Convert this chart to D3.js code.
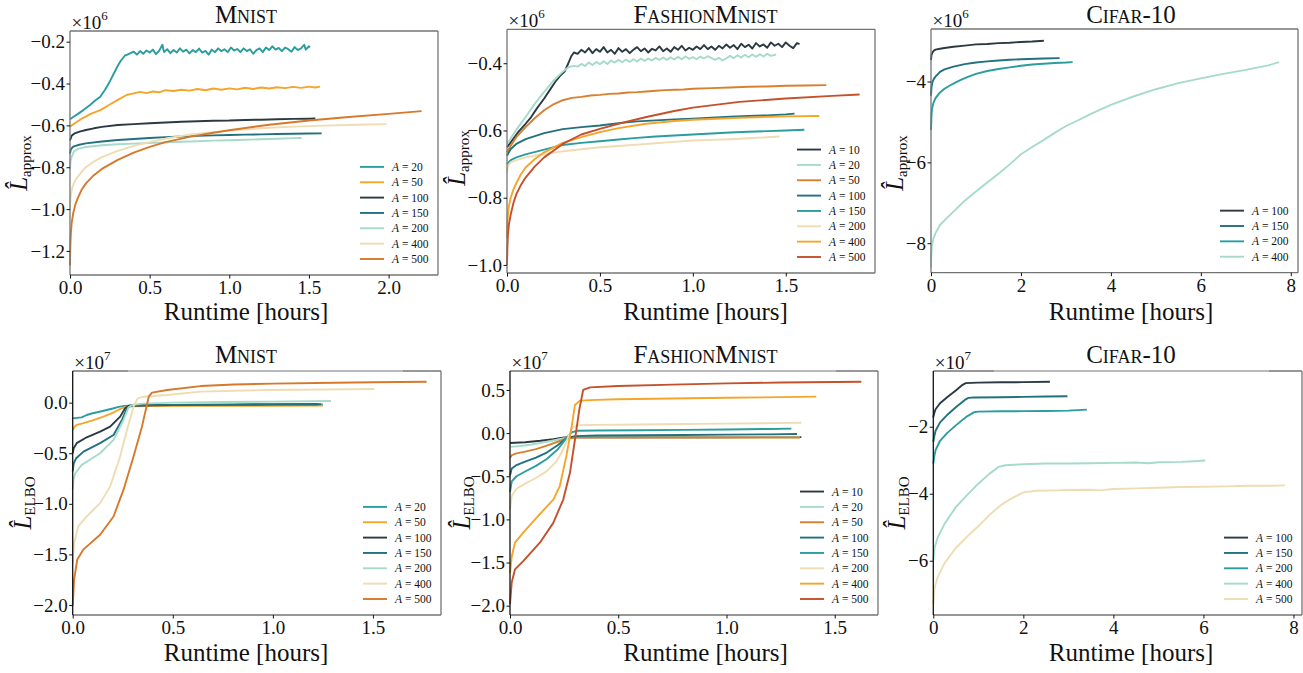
<!DOCTYPE html>
<html><head><meta charset="utf-8">
<script src="https://cdn.jsdelivr.net/npm/d3@7"></script>
<style>
body{margin:0;background:#fff}
svg{display:block}
text{font-family:"Liberation Serif","DejaVu Serif",serif;fill:#111}
</style>
</head><body>
<svg id="chart" width="1303" height="673"></svg>
<script>
// ---------------- DATA ----------------
// Panel titles and tick labels
const panelTitles = ["Mnist","FashionMnist","Cifar-10","Mnist","FashionMnist","Cifar-10"];
const panelExponents = ["6","6","6","7","7","7"];
const xTicksMnistApprox = [0,0.5,1.0,1.5,2.0];
const yTicksMnistApprox = [-1.2,-1.0,-0.8,-0.6,-0.4,-0.2];
const xTicksFashionApprox = [0,0.5,1.0,1.5];
const yTicksFashionApprox = [-1.0,-0.8,-0.6,-0.4];
const xTicksCifarApprox = [0,2,4,6,8];
const yTicksCifarApprox = [-8,-6,-4];
const xTicksMnistElbo = [0,0.5,1.0,1.5];
const yTicksMnistElbo = [-2.0,-1.5,-1.0,-0.5,0.0];
const xTicksFashionElbo = [0,0.5,1.0,1.5];
const yTicksFashionElbo = [-2.0,-1.5,-1.0,-0.5,0.0,0.5];
const xTicksCifarElbo = [0,2,4,6,8];
const yTicksCifarElbo = [-6,-4,-2];

// Series labels (A values)
const mnistApproxA = [20,50,100,150,200,400,500];
const fashionApproxA = [10,20,50,100,150,200,400,500];
const cifarApproxA = [100,150,200,400];
const mnistElboA = [20,50,100,150,200,400,500];
const fashionElboA = [10,20,50,100,150,200,400,500];
const cifarElboA = [100,150,200,400,500];

// Series values: [runtime hours, value (x10^exp)]
const mnistApproxValues = [
 [[0,-0.571],[0.02,-0.56],[0.05,-0.545],[0.084,-0.527],[0.126,-0.503],[0.16,-0.48],[0.19,-0.463],[0.22,-0.43],[0.25,-0.39],[0.28,-0.345],[0.30,-0.315],[0.32,-0.29],[0.345,-0.266],[0.36,-0.262],
  [0.38,-0.255],[0.40,-0.248],[0.42,-0.262],[0.44,-0.245],[0.46,-0.258],[0.48,-0.242],[0.50,-0.252],[0.52,-0.238],[0.54,-0.26],[0.56,-0.243],[0.58,-0.215],[0.59,-0.25],[0.61,-0.236],[0.63,-0.255],[0.65,-0.24],[0.67,-0.252],[0.69,-0.232],[0.71,-0.248],[0.73,-0.238],[0.75,-0.256],[0.77,-0.24],[0.79,-0.25],[0.81,-0.233],[0.83,-0.252],[0.85,-0.244],[0.87,-0.262],[0.89,-0.238],[0.91,-0.25],[0.93,-0.232],[0.95,-0.245],[0.97,-0.236],[0.99,-0.25],[1.01,-0.228],[1.03,-0.242],[1.05,-0.235],[1.07,-0.25],[1.09,-0.232],[1.11,-0.245],[1.13,-0.236],[1.15,-0.258],[1.17,-0.24],[1.19,-0.232],[1.21,-0.25],[1.23,-0.228],[1.25,-0.24],[1.27,-0.222],[1.29,-0.238],[1.31,-0.23],[1.33,-0.245],[1.35,-0.228],[1.37,-0.236],[1.39,-0.248],[1.41,-0.226],[1.43,-0.24],[1.45,-0.232],[1.47,-0.215],[1.48,-0.238],[1.50,-0.222],[1.506,-0.228]],
 [[0,-0.606],[0.03,-0.59],[0.08,-0.565],[0.13,-0.545],[0.19,-0.527],[0.25,-0.5],[0.3,-0.478],[0.356,-0.455],[0.40,-0.447],[0.44,-0.44],[0.48,-0.446],[0.52,-0.438],[0.56,-0.442],[0.60,-0.432],[0.65,-0.436],[0.70,-0.43],[0.75,-0.434],[0.80,-0.426],[0.85,-0.432],[0.90,-0.424],[0.95,-0.43],[1.0,-0.423],[1.05,-0.428],[1.1,-0.42],[1.15,-0.426],[1.2,-0.419],[1.25,-0.424],[1.3,-0.418],[1.35,-0.422],[1.4,-0.416],[1.45,-0.421],[1.5,-0.415],[1.54,-0.419],[1.57,-0.415]],
 [[0,-0.672],[0.01,-0.65],[0.03,-0.638],[0.06,-0.63],[0.1,-0.622],[0.15,-0.614],[0.2,-0.607],[0.3,-0.598],[0.4,-0.594],[0.5,-0.59],[0.6,-0.586],[0.7,-0.583],[0.8,-0.58],[0.9,-0.578],[1.0,-0.577],[1.1,-0.574],[1.2,-0.573],[1.3,-0.571],[1.4,-0.569],[1.5,-0.568],[1.54,-0.567]],
 [[0,-0.735],[0.005,-0.715],[0.02,-0.702],[0.05,-0.694],[0.1,-0.686],[0.2,-0.677],[0.3,-0.67],[0.4,-0.665],[0.5,-0.66],[0.6,-0.656],[0.7,-0.653],[0.8,-0.65],[0.9,-0.648],[1.0,-0.646],[1.1,-0.644],[1.2,-0.643],[1.3,-0.641],[1.4,-0.64],[1.5,-0.639],[1.58,-0.638]],
 [[0,-0.81],[0.003,-0.77],[0.01,-0.75],[0.025,-0.725],[0.05,-0.712],[0.1,-0.703],[0.2,-0.695],[0.3,-0.69],[0.4,-0.687],[0.5,-0.684],[0.6,-0.681],[0.7,-0.678],[0.8,-0.676],[0.9,-0.673],[1.0,-0.671],[1.1,-0.669],[1.2,-0.666],[1.3,-0.664],[1.4,-0.661],[1.454,-0.66]],
 [[0,-1.0],[0.003,-0.95],[0.01,-0.91],[0.02,-0.885],[0.035,-0.86],[0.05,-0.845],[0.075,-0.82],[0.1,-0.8],[0.15,-0.773],[0.2,-0.752],[0.3,-0.722],[0.4,-0.698],[0.5,-0.68],[0.6,-0.663],[0.75,-0.645],[0.9,-0.632],[1.0,-0.625],[1.2,-0.614],[1.4,-0.606],[1.6,-0.601],[1.8,-0.597],[1.987,-0.594]],
 [[0,-1.27],[0.002,-1.18],[0.005,-1.12],[0.01,-1.07],[0.02,-1.02],[0.035,-0.975],[0.05,-0.945],[0.075,-0.905],[0.1,-0.877],[0.15,-0.838],[0.2,-0.808],[0.3,-0.765],[0.4,-0.73],[0.5,-0.703],[0.6,-0.68],[0.75,-0.655],[0.9,-0.635],[1.0,-0.623],[1.25,-0.597],[1.5,-0.577],[1.75,-0.56],[2.0,-0.545],[2.207,-0.532]]
];
const fashionApproxValues = [
 [[0,-0.65],[0.03,-0.628],[0.06,-0.605],[0.1,-0.58],[0.13,-0.56],[0.16,-0.535],[0.2,-0.505],[0.23,-0.48],[0.26,-0.455],[0.29,-0.435],[0.31,-0.425],[0.33,-0.4],[0.345,-0.38],[0.36,-0.368],
  [0.38,-0.372],[0.40,-0.36],[0.42,-0.368],[0.44,-0.355],[0.46,-0.37],[0.48,-0.358],[0.50,-0.366],[0.52,-0.352],[0.54,-0.368],[0.56,-0.36],[0.58,-0.372],[0.60,-0.355],[0.62,-0.366],[0.64,-0.358],[0.66,-0.37],[0.68,-0.36],[0.70,-0.352],[0.72,-0.364],[0.74,-0.356],[0.76,-0.368],[0.78,-0.357],[0.80,-0.362],[0.82,-0.35],[0.84,-0.364],[0.86,-0.356],[0.88,-0.366],[0.90,-0.352],[0.92,-0.36],[0.94,-0.348],[0.96,-0.362],[0.98,-0.354],[1.0,-0.36],[1.02,-0.35],[1.04,-0.358],[1.06,-0.346],[1.08,-0.358],[1.10,-0.35],[1.12,-0.36],[1.14,-0.348],[1.16,-0.356],[1.18,-0.344],[1.20,-0.354],[1.22,-0.346],[1.24,-0.358],[1.26,-0.342],[1.28,-0.352],[1.30,-0.345],[1.32,-0.356],[1.34,-0.34],[1.36,-0.35],[1.38,-0.344],[1.40,-0.354],[1.42,-0.338],[1.44,-0.348],[1.46,-0.342],[1.48,-0.352],[1.50,-0.338],[1.52,-0.348],[1.54,-0.355],[1.56,-0.34],[1.574,-0.343]],
 [[0,-0.64],[0.03,-0.615],[0.06,-0.59],[0.1,-0.56],[0.15,-0.52],[0.2,-0.485],[0.25,-0.452],[0.3,-0.425],[0.33,-0.412],[0.36,-0.408],[0.38,-0.41],[0.40,-0.402],[0.42,-0.408],[0.44,-0.398],[0.46,-0.405],[0.48,-0.396],[0.50,-0.403],[0.52,-0.394],[0.54,-0.402],[0.56,-0.392],[0.58,-0.398],[0.60,-0.39],[0.62,-0.397],[0.64,-0.389],[0.66,-0.396],[0.68,-0.388],[0.70,-0.395],[0.72,-0.386],[0.74,-0.393],[0.76,-0.386],[0.78,-0.392],[0.80,-0.384],[0.82,-0.39],[0.84,-0.383],[0.86,-0.39],[0.88,-0.382],[0.90,-0.389],[0.92,-0.381],[0.94,-0.388],[0.96,-0.38],[0.98,-0.387],[1.0,-0.382],[1.02,-0.388],[1.04,-0.38],[1.06,-0.386],[1.08,-0.379],[1.10,-0.385],[1.12,-0.39],[1.14,-0.384],[1.16,-0.392],[1.18,-0.385],[1.20,-0.378],[1.22,-0.385],[1.24,-0.376],[1.26,-0.383],[1.28,-0.375],[1.30,-0.382],[1.32,-0.374],[1.34,-0.381],[1.36,-0.373],[1.38,-0.38],[1.40,-0.372],[1.42,-0.378],[1.448,-0.374]],
 [[0,-0.665],[0.02,-0.645],[0.05,-0.62],[0.1,-0.59],[0.15,-0.563],[0.2,-0.54],[0.25,-0.522],[0.3,-0.51],[0.35,-0.503],[0.4,-0.5],[0.45,-0.496],[0.5,-0.494],[0.55,-0.491],[0.6,-0.49],[0.65,-0.487],[0.7,-0.486],[0.75,-0.484],[0.8,-0.482],[0.85,-0.48],[0.9,-0.479],[0.95,-0.478],[1.0,-0.476],[1.1,-0.474],[1.2,-0.472],[1.3,-0.47],[1.4,-0.469],[1.5,-0.467],[1.6,-0.466],[1.718,-0.465]],
 [[0,-0.675],[0.02,-0.655],[0.05,-0.64],[0.1,-0.626],[0.2,-0.608],[0.3,-0.596],[0.4,-0.59],[0.5,-0.585],[0.6,-0.578],[0.7,-0.573],[0.8,-0.57],[0.9,-0.567],[1.0,-0.565],[1.1,-0.562],[1.2,-0.559],[1.3,-0.557],[1.4,-0.555],[1.5,-0.552],[1.547,-0.55]],
 [[0,-0.7],[0.02,-0.688],[0.05,-0.68],[0.1,-0.671],[0.2,-0.657],[0.3,-0.643],[0.4,-0.637],[0.5,-0.632],[0.6,-0.627],[0.7,-0.622],[0.8,-0.618],[0.9,-0.615],[1.0,-0.612],[1.1,-0.609],[1.2,-0.606],[1.3,-0.604],[1.4,-0.602],[1.5,-0.6],[1.6,-0.598]],
 [[0,-0.725],[0.005,-0.705],[0.02,-0.695],[0.05,-0.688],[0.1,-0.68],[0.2,-0.67],[0.3,-0.662],[0.4,-0.656],[0.5,-0.65],[0.6,-0.646],[0.7,-0.642],[0.8,-0.638],[0.9,-0.634],[1.0,-0.63],[1.1,-0.628],[1.2,-0.626],[1.3,-0.623],[1.4,-0.62],[1.466,-0.618]],
 [[0,-0.92],[0.002,-0.87],[0.005,-0.85],[0.01,-0.825],[0.02,-0.8],[0.035,-0.775],[0.05,-0.757],[0.075,-0.73],[0.1,-0.71],[0.15,-0.685],[0.2,-0.665],[0.3,-0.637],[0.4,-0.62],[0.5,-0.605],[0.6,-0.593],[0.75,-0.58],[0.9,-0.572],[1.0,-0.568],[1.25,-0.562],[1.5,-0.558],[1.68,-0.557]],
 [[0,-1.0],[0.002,-0.95],[0.005,-0.91],[0.01,-0.88],[0.02,-0.85],[0.035,-0.815],[0.05,-0.79],[0.075,-0.762],[0.1,-0.74],[0.15,-0.707],[0.2,-0.68],[0.3,-0.64],[0.4,-0.612],[0.5,-0.595],[0.6,-0.58],[0.75,-0.56],[0.9,-0.542],[1.0,-0.532],[1.25,-0.515],[1.5,-0.505],[1.75,-0.497],[1.897,-0.493]]
];
const cifarApproxValues = [
 [[0,-3.47],[0.01,-3.35],[0.03,-3.29],[0.06,-3.24],[0.1,-3.21],[0.2,-3.19],[0.3,-3.17],[0.5,-3.14],[0.75,-3.11],[1.0,-3.08],[1.25,-3.07],[1.5,-3.05],[1.75,-3.04],[2.0,-3.02],[2.25,-3.01],[2.51,-2.99]],
 [[0,-4.35],[0.01,-4.15],[0.03,-4.02],[0.06,-3.94],[0.1,-3.88],[0.2,-3.76],[0.3,-3.7],[0.5,-3.63],[0.75,-3.57],[1.0,-3.53],[1.25,-3.5],[1.5,-3.48],[1.75,-3.46],[2.0,-3.45],[2.5,-3.43],[2.86,-3.42]],
 [[0,-5.2],[0.01,-4.85],[0.02,-4.7],[0.05,-4.54],[0.1,-4.41],[0.2,-4.27],[0.3,-4.18],[0.4,-4.11],[0.55,-4.02],[0.7,-3.94],[0.85,-3.87],[1.0,-3.81],[1.25,-3.74],[1.5,-3.69],[1.75,-3.65],[2.0,-3.61],[2.25,-3.58],[2.5,-3.56],[2.75,-3.54],[3.0,-3.53],[3.15,-3.52]],
 [[0,-8.6],[0.005,-8.3],[0.02,-8.05],[0.05,-7.9],[0.1,-7.75],[0.2,-7.55],[0.35,-7.38],[0.5,-7.22],[0.75,-6.95],[1.0,-6.72],[1.25,-6.5],[1.5,-6.28],[1.75,-6.05],[2.0,-5.8],[2.25,-5.62],[2.5,-5.45],[2.75,-5.27],[3.0,-5.1],[3.25,-4.97],[3.5,-4.83],[3.75,-4.7],[4.0,-4.58],[4.5,-4.37],[5.0,-4.19],[5.5,-4.04],[6.0,-3.92],[6.5,-3.81],[7.0,-3.71],[7.5,-3.6],[7.74,-3.52]]
];
const mnistElboValues = [
 [[0,-0.155],[0.02,-0.15],[0.045,-0.145],[0.07,-0.122],[0.1,-0.105],[0.15,-0.082],[0.2,-0.058],[0.23,-0.042],[0.26,-0.032],[0.3,-0.028],[0.4,-0.026],[0.5,-0.024],[0.75,-0.022],[1.0,-0.02],[1.25,-0.018]],
 [[0,-0.27],[0.008,-0.24],[0.02,-0.22],[0.05,-0.205],[0.1,-0.175],[0.15,-0.14],[0.2,-0.1],[0.23,-0.07],[0.26,-0.045],[0.3,-0.035],[0.4,-0.034],[0.6,-0.032],[0.8,-0.031],[1.0,-0.03],[1.25,-0.029]],
 [[0,-0.5],[0.005,-0.45],[0.02,-0.40],[0.07,-0.342],[0.137,-0.286],[0.187,-0.237],[0.237,-0.138],[0.262,-0.056],[0.28,-0.03],[0.4,-0.025],[0.6,-0.022],[0.8,-0.019],[1.0,-0.017],[1.224,-0.015]],
 [[0,-0.68],[0.005,-0.6],[0.017,-0.55],[0.054,-0.484],[0.137,-0.40],[0.204,-0.32],[0.246,-0.17],[0.271,-0.056],[0.29,-0.028],[0.4,-0.024],[0.6,-0.021],[0.8,-0.019],[1.0,-0.017],[1.24,-0.016]],
 [[0,-0.86],[0.004,-0.76],[0.012,-0.70],[0.045,-0.615],[0.137,-0.50],[0.204,-0.368],[0.254,-0.17],[0.279,-0.046],[0.3,-0.02],[0.35,-0.01],[0.5,0.0],[0.75,0.006],[1.0,0.01],[1.29,0.016]],
 [[0,-1.59],[0.007,-1.39],[0.028,-1.22],[0.07,-1.125],[0.137,-0.993],[0.187,-0.829],[0.237,-0.533],[0.271,-0.27],[0.304,-0.04],[0.324,0.043],[0.355,0.059],[0.472,0.076],[0.639,0.109],[0.973,0.125],[1.25,0.13],[1.508,0.135]],
 [[0,-2.01],[0.007,-1.75],[0.023,-1.55],[0.054,-1.45],[0.137,-1.306],[0.204,-1.125],[0.254,-0.86],[0.304,-0.533],[0.346,-0.237],[0.38,0.059],[0.396,0.099],[0.472,0.125],[0.639,0.164],[0.806,0.18],[1.0,0.188],[1.308,0.197],[1.5,0.202],[1.768,0.207]]
];
const fashionElboValues = [
 [[0,-0.115],[0.07,-0.105],[0.14,-0.088],[0.2,-0.07],[0.25,-0.05],[0.3,-0.048],[0.5,-0.048],[0.75,-0.047],[1.0,-0.047],[1.346,-0.046]],
 [[0,-0.16],[0.05,-0.15],[0.1,-0.132],[0.15,-0.11],[0.2,-0.085],[0.25,-0.06],[0.3,-0.05],[0.5,-0.049],[1.0,-0.048],[1.34,-0.047]],
 [[0,-0.29],[0.008,-0.255],[0.03,-0.235],[0.07,-0.215],[0.12,-0.185],[0.17,-0.145],[0.22,-0.1],[0.26,-0.065],[0.3,-0.052],[0.5,-0.052],[1.0,-0.051],[1.34,-0.05]],
 [[0,-0.49],[0.008,-0.41],[0.03,-0.37],[0.07,-0.33],[0.12,-0.285],[0.17,-0.225],[0.22,-0.14],[0.26,-0.06],[0.3,-0.035],[0.4,-0.028],[0.6,-0.025],[0.8,-0.022],[1.0,-0.018],[1.2,-0.014],[1.326,-0.01]],
 [[0,-0.68],[0.008,-0.56],[0.03,-0.5],[0.07,-0.445],[0.12,-0.38],[0.17,-0.3],[0.22,-0.19],[0.26,-0.06],[0.285,0.01],[0.31,0.027],[0.4,0.03],[0.6,0.034],[0.8,0.038],[1.0,0.042],[1.2,0.048],[1.3,0.052]],
 [[0,-0.89],[0.008,-0.73],[0.03,-0.645],[0.07,-0.585],[0.12,-0.52],[0.17,-0.44],[0.215,-0.327],[0.246,-0.19],[0.27,-0.04],[0.29,0.07],[0.32,0.092],[0.4,0.096],[0.6,0.1],[0.8,0.105],[1.0,0.11],[1.2,0.116],[1.346,0.12]],
 [[0,-1.62],[0.008,-1.43],[0.023,-1.27],[0.062,-1.15],[0.123,-0.98],[0.2,-0.77],[0.23,-0.615],[0.26,-0.27],[0.285,0.077],[0.3,0.327],[0.323,0.377],[0.4,0.385],[0.5,0.392],[0.75,0.402],[1.0,0.41],[1.25,0.417],[1.415,0.423]],
 [[0,-1.98],[0.008,-1.73],[0.023,-1.58],[0.062,-1.48],[0.138,-1.27],[0.2,-1.04],[0.246,-0.77],[0.277,-0.46],[0.3,-0.077],[0.32,0.27],[0.338,0.5],[0.37,0.53],[0.5,0.546],[0.75,0.562],[1.0,0.577],[1.25,0.586],[1.5,0.592],[1.623,0.596]]
];
const cifarElboValues = [
 [[0,-1.72],[0.02,-1.6],[0.05,-1.48],[0.15,-1.3],[0.3,-1.13],[0.5,-0.92],[0.65,-0.75],[0.72,-0.7],[0.85,-0.69],[1.0,-0.685],[1.5,-0.675],[2.0,-0.67],[2.59,-0.66]],
 [[0,-2.45],[0.02,-2.3],[0.05,-2.12],[0.15,-1.87],[0.3,-1.66],[0.5,-1.42],[0.7,-1.2],[0.78,-1.14],[0.9,-1.13],[1.5,-1.12],[2.0,-1.11],[2.5,-1.1],[2.98,-1.09]],
 [[0,-3.1],[0.02,-2.9],[0.05,-2.7],[0.15,-2.42],[0.3,-2.2],[0.5,-1.96],[0.75,-1.69],[0.9,-1.57],[1.0,-1.55],[1.5,-1.54],[2.0,-1.535],[2.5,-1.53],[3.0,-1.52],[3.41,-1.49]],
 [[0,-5.98],[0.03,-5.6],[0.1,-5.3],[0.25,-4.9],[0.5,-4.4],[0.75,-4.04],[1.0,-3.7],[1.25,-3.4],[1.45,-3.2],[1.6,-3.15],[2.0,-3.12],[2.5,-3.1],[3.0,-3.1],[3.5,-3.09],[4.0,-3.08],[4.5,-3.07],[4.8,-3.09],[5.0,-3.06],[5.5,-3.05],[5.8,-3.03],[6.04,-3.01]],
 [[0,-7.3],[0.03,-6.8],[0.1,-6.48],[0.25,-6.07],[0.5,-5.62],[0.75,-5.28],[1.0,-4.97],[1.25,-4.63],[1.5,-4.34],[1.75,-4.13],[2.0,-3.96],[2.3,-3.91],[2.75,-3.9],[3.0,-3.89],[3.5,-3.88],[3.7,-3.9],[4.0,-3.86],[4.5,-3.84],[5.0,-3.82],[5.5,-3.8],[6.0,-3.79],[6.5,-3.78],[7.0,-3.76],[7.5,-3.76],[7.81,-3.75]]
];

// ---------------- STYLE / LAYOUT ----------------
const COL = {teal:"#2a9d9f", orange:"#f4a52a", dark:"#2b3a42", dteal:"#23717e", mint:"#a6dbc9",
             beige:"#efdcb2", burnt:"#d6792a", orange2:"#d9802f", red:"#c5512b"};
const panels = [
 {title:panelTitles[0], exp:panelExponents[0], sub:"approx", box:[70,31,438,275], xdom:[0,2.31], ydom:[-1.315,-0.149],
  xt:xTicksMnistApprox, yt:yTicksMnistApprox, xf:".1f", yf:".1f", A:mnistApproxA, vals:mnistApproxValues,
  cols:[COL.teal,COL.orange,COL.dark,COL.dteal,COL.mint,COL.beige,COL.burnt], tx:246, ty:22.7, xl:320, ylx:27, yly:163, bottomRow:false},
 {title:panelTitles[1], exp:panelExponents[1], sub:"approx", box:[507,29.3,875,273], xdom:[0,1.98], ydom:[-1.024,-0.299],
  xt:xTicksFashionApprox, yt:yTicksFashionApprox, xf:".1f", yf:".1f", A:fashionApproxA, vals:fashionApproxValues,
  cols:[COL.dark,COL.mint,COL.orange2,COL.dteal,COL.teal,COL.beige,COL.orange,COL.red], tx:705.5, ty:22.7, xl:320, ylx:465, yly:158, bottomRow:false},
 {title:panelTitles[2], exp:panelExponents[2], sub:"approx", box:[931,29,1298,272.7], xdom:[0,8.16], ydom:[-8.73,-2.70],
  xt:xTicksCifarApprox, yt:yTicksCifarApprox, xf:".0f", yf:".0f", A:cifarApproxA, vals:cifarApproxValues,
  cols:[COL.dark,COL.dteal,COL.teal,COL.mint], tx:1131, ty:22.7, xl:320, ylx:903, yly:163, bottomRow:false},
 {title:panelTitles[3], exp:panelExponents[3], sub:"ELBO", box:[72.7,371,441,615], xdom:[0,1.84], ydom:[-2.099,0.313],
  xt:xTicksMnistElbo, yt:yTicksMnistElbo, xf:".1f", yf:".1f", A:mnistElboA, vals:mnistElboValues,
  cols:[COL.teal,COL.orange,COL.dark,COL.dteal,COL.mint,COL.beige,COL.burnt], tx:246, ty:363.3, xl:660.7, ylx:31, yly:503, bottomRow:true, light:[128,403]},
 {title:panelTitles[4], exp:panelExponents[4], sub:"ELBO", box:[510,371,878,615], xdom:[0,1.70], ydom:[-2.108,0.72],
  xt:xTicksFashionElbo, yt:yTicksFashionElbo, xf:".1f", yf:".1f", A:fashionElboA, vals:fashionElboValues,
  cols:[COL.dark,COL.mint,COL.orange2,COL.dteal,COL.teal,COL.beige,COL.orange,COL.red], tx:705.5, ty:363.3, xl:660.7, ylx:470, yly:503, bottomRow:true, light:[560,836]},
 {title:panelTitles[5], exp:panelExponents[5], sub:"ELBO", box:[933.3,371,1302,615], xdom:[0,8.19], ydom:[-7.62,-0.337],
  xt:xTicksCifarElbo, yt:yTicksCifarElbo, xf:".0f", yf:".0f", A:cifarElboA, vals:cifarElboValues,
  cols:[COL.dark,COL.dteal,COL.teal,COL.mint,COL.beige], tx:1131, ty:363.3, xl:660.7, ylx:905, yly:503, bottomRow:true, light:[994,1269]}
];

const svg = d3.select("#chart");
const SPINE = "#747474";

panels.forEach(p => {
  const [L,T,R,B] = p.box;
  const g = svg.append("g");
  const x = d3.scaleLinear().domain(p.xdom).range([L,R]);
  const y = d3.scaleLinear().domain(p.ydom).range([B,T]);
  const line = d3.line().x(d => x(d[0])).y(d => y(d[1]));

  // lines
  p.vals.forEach((s,i) => {
    g.append("path").attr("d", line(s)).attr("fill","none")
     .attr("stroke", p.cols[i]).attr("stroke-width", 1.9)
     .attr("stroke-linejoin","round").attr("stroke-linecap","butt");
  });

  // spines
  const sp = (x1,y1,x2,y2,c) => g.append("line").attr("x1",x1).attr("y1",y1).attr("x2",x2).attr("y2",y2)
      .attr("stroke",c).attr("stroke-width",1.3);
  sp(L,B,R,B,SPINE);
  sp(R,T,R,B,SPINE);
  sp(L,T,R,T,SPINE);
  if (p.light) sp(p.light[0],T,p.light[1],T,"#c4c4c4");
  sp(L,T,L,B, p.bottomRow ? "#111" : SPINE);

  // axes
  const xa = d3.axisBottom(x).tickValues(p.xt).tickFormat(d3.format(p.xf)).tickSize(3.5).tickPadding(2.5);
  const ya = d3.axisLeft(y).tickValues(p.yt).tickFormat(d3.format(p.yf)).tickSize(3.5).tickPadding(1.5);
  const gx = g.append("g").attr("transform",`translate(0,${B})`).call(xa);
  const gy = g.append("g").attr("transform",`translate(${L},0)`).call(ya);
  [gx,gy].forEach(a => {
    a.select(".domain").remove();
    a.selectAll("line").attr("stroke","#111");
    a.selectAll("text").style("font-size","19px").style("font-family",'"Liberation Serif",serif').attr("fill","#222");
  });

  // offset text
  const ot = g.append("text").attr("x", L+1.5).attr("y", T-2).style("font-size","19px").attr("fill","#222");
  ot.append("tspan").text("×10");
  ot.append("tspan").attr("dy",-9).style("font-size","13px").text(p.exp);

  // title
  g.append("text").attr("x",p.tx).attr("y",p.ty).attr("text-anchor","middle")
   .style("font-size","25px").style("font-variant","small-caps").text(p.title);

  // x label
  g.append("text").attr("x",p.tx).attr("y",p.xl).attr("text-anchor","middle")
   .style("font-size","25px").text("Runtime [hours]");

  // y label
  const yl = g.append("text").attr("transform",`translate(${p.ylx},${p.yly}) rotate(-90)`)
   .attr("text-anchor","middle").style("font-size","25px");
  yl.append("tspan").style("font-style","italic").text("L\u0302");
  yl.append("tspan").attr("dy",4).style("font-size","15px").text(p.sub);

  // legend
  const n = p.A.length, rowH = 15.35;
  const lx = R - 78;
  p.A.forEach((a,i) => {
    const yy = B - 16 - (n-1-i)*rowH;
    g.append("line").attr("x1",lx).attr("x2",lx+24).attr("y1",yy).attr("y2",yy)
     .attr("stroke",p.cols[i]).attr("stroke-width",1.9);
    const t = g.append("text").attr("x",lx+32).attr("y",yy+4).style("font-size","11.5px").attr("fill","#333");
    t.append("tspan").style("font-style","italic").text("A");
    t.append("tspan").text(" = " + a);
  });
});
</script>
</body></html>
